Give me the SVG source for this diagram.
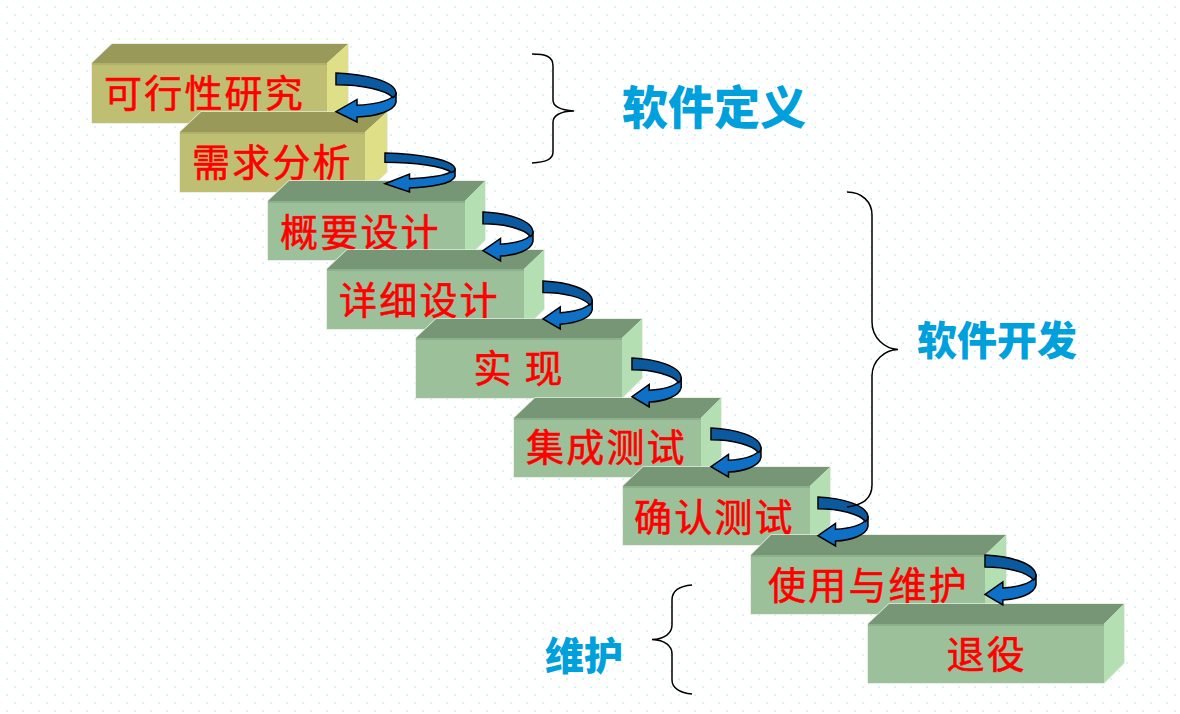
<svg xmlns="http://www.w3.org/2000/svg" xmlns:xlink="http://www.w3.org/1999/xlink" width="1180" height="714" viewBox="0 0 1180 714">
<style>
.h{fill:none;stroke:#e4ebdd;stroke-width:1.5}
.y .f{fill:#bfbf73}.y .t{fill:#999959}.y .s{fill:#dfdf87}
.g .f{fill:#9cc19a}.g .t{fill:#769676}.g .s{fill:#b3dfb3}
.e{opacity:.35}
.lb{font-family:"Noto Sans CJK SC",sans-serif;font-size:38px;letter-spacing:2.2px;fill:#ff0000;stroke:#ff0000;stroke-width:.6}
.ti{font-family:"Noto Sans CJK SC",sans-serif;font-weight:900;fill:#00a0dc}
.br{fill:none;stroke:#000;stroke-width:1.5}
.ad{fill:#0b5aa0;stroke:#000;stroke-width:1.5;stroke-linejoin:miter;vector-effect:non-scaling-stroke}
.al{fill:#0f70c8;stroke:#000;stroke-width:1.5;stroke-linejoin:miter;vector-effect:non-scaling-stroke}
</style>
<defs>
<pattern id="dots" width="16" height="16" patternUnits="userSpaceOnUse">
<rect x="6" y="6" width="2" height="2" fill="#d6f3f6"/>
<rect x="14" y="14" width="2" height="2" fill="#d6f3f6"/>
</pattern>
<g id="curl">
<path class="al" d="M60,21L60,30C58,39 40,44 21,45L21,50L0,39.500L21,27L21,33C38,32 50,30 57,24Z"/>
<path class="ad" d="M0,0C28,1 60,8 60,21C60,23 59,24 57,25C50,17 25,12 0,12Z"/>
</g>
</defs>
<rect width="1180" height="714" fill="#fff"/>
<rect width="1180" height="714" fill="url(#dots)"/>
<g id="node-1" class="y"><polygon class="h" points="92,63 112,44 348,44 348,103 327,123 92,123"/><polygon class="t" points="92,63 112,44 348,44 327,63"/><polygon class="s" points="327,63 348,44 348,103 327,123"/><rect class="f" x="92" y="63" width="235" height="60"/><rect class="t e" x="92" y="63" width="235" height="2"/><text class="lb" x="104" y="107">可行性研究</text></g>
<g id="node-2" class="y"><polygon class="h" points="180,132 201,112 387,112 387,172 365,192 180,192"/><polygon class="t" points="180,132 201,112 387,112 365,132"/><polygon class="s" points="365,132 387,112 387,172 365,192"/><rect class="f" x="180" y="132" width="185" height="60"/><rect class="t e" x="180" y="132" width="185" height="2"/><text class="lb" x="192" y="176">需求分析</text></g>
<g id="node-3" class="g"><polygon class="h" points="268,201 289,181 485,181 485,240 465,260 268,260"/><polygon class="t" points="268,201 289,181 485,181 465,201"/><polygon class="s" points="465,201 485,181 485,240 465,260"/><rect class="f" x="268" y="201" width="197" height="59"/><rect class="t e" x="268" y="201" width="197" height="2"/><text class="lb" x="280" y="246">概要设计</text></g>
<g id="node-4" class="g"><polygon class="h" points="327,269 347,250 544,250 544,309 524,329 327,329"/><polygon class="t" points="327,269 347,250 544,250 524,269"/><polygon class="s" points="524,269 544,250 544,309 524,329"/><rect class="f" x="327" y="269" width="197" height="60"/><rect class="t e" x="327" y="269" width="197" height="2"/><text class="lb" x="339" y="314">详细设计</text></g>
<g id="node-5" class="g"><polygon class="h" points="416,338 436,319 642,319 642,378 622,398 416,398"/><polygon class="t" points="416,338 436,319 642,319 622,338"/><polygon class="s" points="622,338 642,319 642,378 622,398"/><rect class="f" x="416" y="338" width="206" height="60"/><rect class="t e" x="416" y="338" width="206" height="2"/><text class="lb" x="473.500" y="382" xml:space="preserve">实 现</text></g>
<g id="node-6" class="g"><polygon class="h" points="514,418 535,398 721,398 721,457 701,477 514,477"/><polygon class="t" points="514,418 535,398 721,398 701,418"/><polygon class="s" points="701,418 721,398 721,457 701,477"/><rect class="f" x="514" y="418" width="187" height="59"/><rect class="t e" x="514" y="418" width="187" height="2"/><text class="lb" x="526" y="461">集成测试</text></g>
<g id="node-7" class="g"><polygon class="h" points="623,486 643,467 830,467 830,525 810,545 623,545"/><polygon class="t" points="623,486 643,467 830,467 810,486"/><polygon class="s" points="810,486 830,467 830,525 810,545"/><rect class="f" x="623" y="486" width="187" height="59"/><rect class="t e" x="623" y="486" width="187" height="2"/><text class="lb" x="634" y="531">确认测试</text></g>
<g id="node-8" class="g"><polygon class="h" points="751,555 771,535 1006,535 1006,594 985,614 751,614"/><polygon class="t" points="751,555 771,535 1006,535 985,555"/><polygon class="s" points="985,555 1006,535 1006,594 985,614"/><rect class="f" x="751" y="555" width="234" height="59"/><rect class="t e" x="751" y="555" width="234" height="2"/><text class="lb" x="768" y="599">使用与维护</text></g>
<g id="node-9" class="g"><polygon class="h" points="868,624 889,604 1124,604 1124,663 1104,683 868,683"/><polygon class="t" points="868,624 889,604 1124,604 1104,624"/><polygon class="s" points="1104,624 1124,604 1124,663 1104,683"/><rect class="f" x="868" y="624" width="236" height="59"/><rect class="t e" x="868" y="624" width="236" height="2"/><text class="lb" x="946.500" y="668">退役</text></g>
<g id="connectors">
<use xlink:href="#curl" href="#curl" transform="translate(336,73) scale(1,.98)"/>
<use xlink:href="#curl" href="#curl" transform="translate(385,153) scale(1.167,.78)"/>
<use xlink:href="#curl" href="#curl" transform="translate(483,212) scale(.833,.98)"/>
<use xlink:href="#curl" href="#curl" transform="translate(543,281) scale(.82,.96)"/>
<use xlink:href="#curl" href="#curl" transform="translate(632,358) scale(.82,.98)"/>
<use xlink:href="#curl" href="#curl" transform="translate(711,428) scale(.833,.98)"/>
<use xlink:href="#curl" href="#curl" transform="translate(818,497) scale(.833,.98)"/>
<use xlink:href="#curl" href="#curl" transform="translate(985,555) scale(.85,1)"/>
</g>
<g id="brace-define"><path class="br" d="M532,54C545,54 553,56 553,66L553,100C553,106 560,110 574,111C560,111 553,116 553,122L553,152C553,160 545,162 532,163"/><text class="ti" x="622" y="124" font-size="46">软件定义</text></g>
<g id="brace-develop"><path class="br" d="M847,192C862,192 872,202 872,215L872,322C872,338 885,349 898,349.500C885,350 872,360 872,376L872,485C872,498 864,505 847,507"/><text class="ti" x="917" y="355" font-size="40">软件开发</text></g>
<g id="brace-maintain"><path class="br" d="M692,585C680,586 672,590 672,600L672,625C672,633 665,639 652,639.500C665,640 672,646 672,654L672,680C672,688 680,693 692,694"/><text class="ti" x="545" y="670" font-size="39">维护</text></g>
</svg>
